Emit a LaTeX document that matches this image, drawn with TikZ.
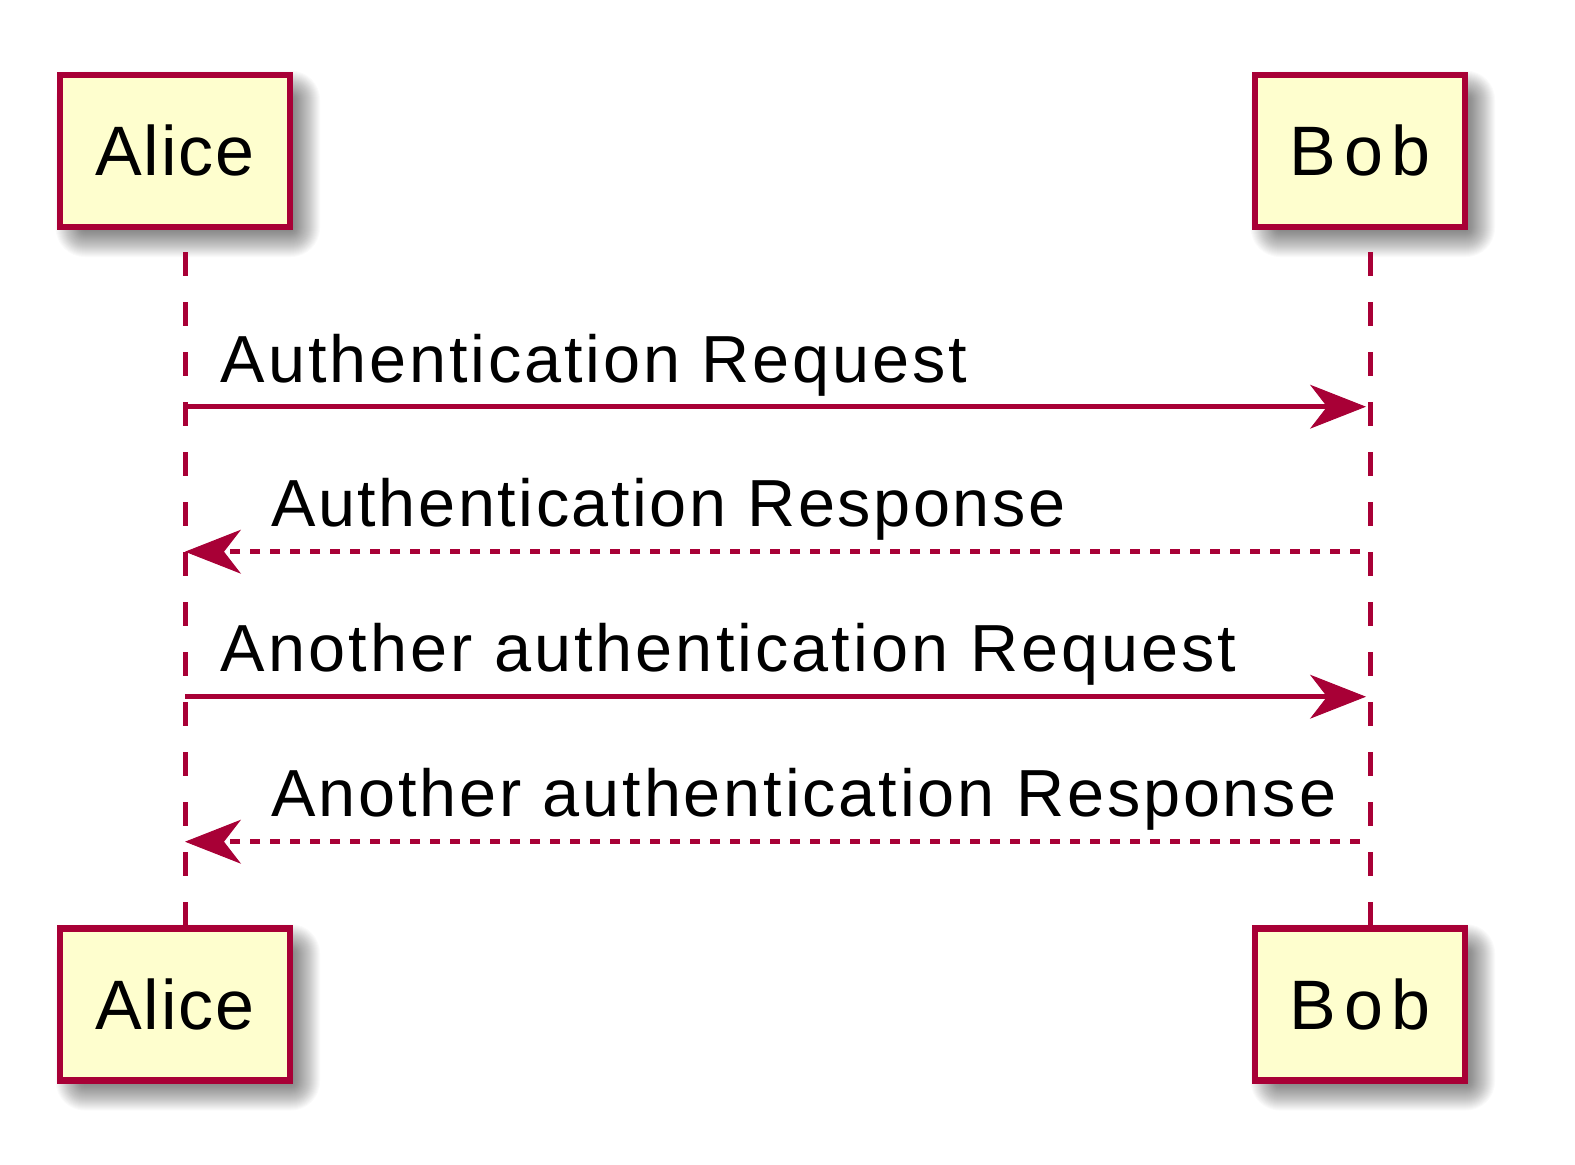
\documentclass[tikz,border=0pt]{standalone}
\usepackage{fontspec}
\setmainfont{Liberation Sans}
\usetikzlibrary{arrows.meta,calc,backgrounds}
\definecolor{pborder}{HTML}{A80036}
\definecolor{pfill}{HTML}{FEFECE}
\newcommand\ls[2]{{\addfontfeature{LetterSpace=#1}#2}}
\begin{document}
\begin{tikzpicture}[x=1pt,y=-1pt,
  participant/.style={draw=pborder, fill=pfill, line width=6.5pt,
    minimum height=151.8pt, inner sep=0pt,
    font=\fontsize{70}{84}\selectfont},
  lifeline/.style={draw=pborder, line width=5pt, dash pattern=on 24pt off 26pt, dash phase=28pt},
  msgline/.style={draw=pborder, line width=5pt,
    -{Stealth[length=56pt, width=44pt, inset=17pt, line width=1pt]}},
  replyline/.style={msgline, dash pattern=on 10pt off 10pt, dash phase=10pt},
  msgtext/.style={anchor=base west, inner sep=0pt, font=\fontsize{66.6}{80}\selectfont},
  shadowpiece/.style={fill=black, fill opacity=0.019, draw=none}
]
\useasboundingbox (0,0) rectangle (1575,1165);

% lifelines (drawn first, under the boxes)
\coordinate (alt) at (185,230);
\coordinate (alb) at (185,925.7);
\coordinate (blt) at (1370,230);
\coordinate (blb) at (1370,925.7);
\draw[lifeline] (alt) -- (alb);
\draw[lifeline] (blt) -- (blb);

% participants
\node[participant, minimum width=229.8pt] (a1) at (174.85,150.85) {\ls{2.8}{Alice}};
\node[participant, minimum width=209.8pt] (b1) at (1359.85,150.85) {\ls{12}{Bob}\hspace{-8.4pt}};
\node[participant, minimum width=229.8pt] (a2) at (174.85,1004.35) {\ls{2.8}{Alice}};
\node[participant, minimum width=209.8pt] (b2) at (1359.85,1004.35) {\ls{12}{Bob}\hspace{-8.4pt}};

% soft shadows behind the participant boxes
\begin{scope}[on background layer]
  \fill[white] (0,0) rectangle (1575,1165);
  \foreach \n in {a1,b1,a2,b2}{
    \foreach \e in {14,13,...,-14}{
      \pgfmathsetmacro\rr{\e+15}
      \fill[shadowpiece, rounded corners=\rr pt] ($(\n.north west)+(13-\e,13-\e)$) rectangle ($(\n.south east)+(13+\e,13+\e)$);
    }
  }
\end{scope}

% message anchor points on lifelines
\coordinate (m1a) at (alt |- 0,406.7);
\coordinate (m1b) at (blt |- 0,406.7);
\coordinate (m2a) at (alt |- 0,551.7);
\coordinate (m2b) at (blt |- 0,551.7);
\coordinate (m3a) at (alt |- 0,696.7);
\coordinate (m3b) at (blt |- 0,696.7);
\coordinate (m4a) at (alt |- 0,841.7);
\coordinate (m4b) at (blt |- 0,841.7);

\draw[msgline, shorten >=4pt] (m1a) -- (m1b);
\draw[replyline] (m2b) -- (m2a);
\draw[msgline, shorten >=4pt] (m3a) -- (m3b);
\draw[replyline] (m4b) -- (m4a);

\node[msgtext] (t1) at ($(m1a)+(35.7,-24)$) {\ls{4.3}{Authentication Request}};
\node[msgtext] (t2) at ($(m2a)+(86,-25)$) {\ls{3.85}{Authentication Response}};
\node[msgtext] (t3) at ($(m3a)+(35.7,-25)$) {\ls{4.6}{Another authentication Request}};
\node[msgtext] (t4) at ($(m4a)+(86,-25)$) {\ls{4.3}{Another authentication Response}};
\end{tikzpicture}
\end{document}
